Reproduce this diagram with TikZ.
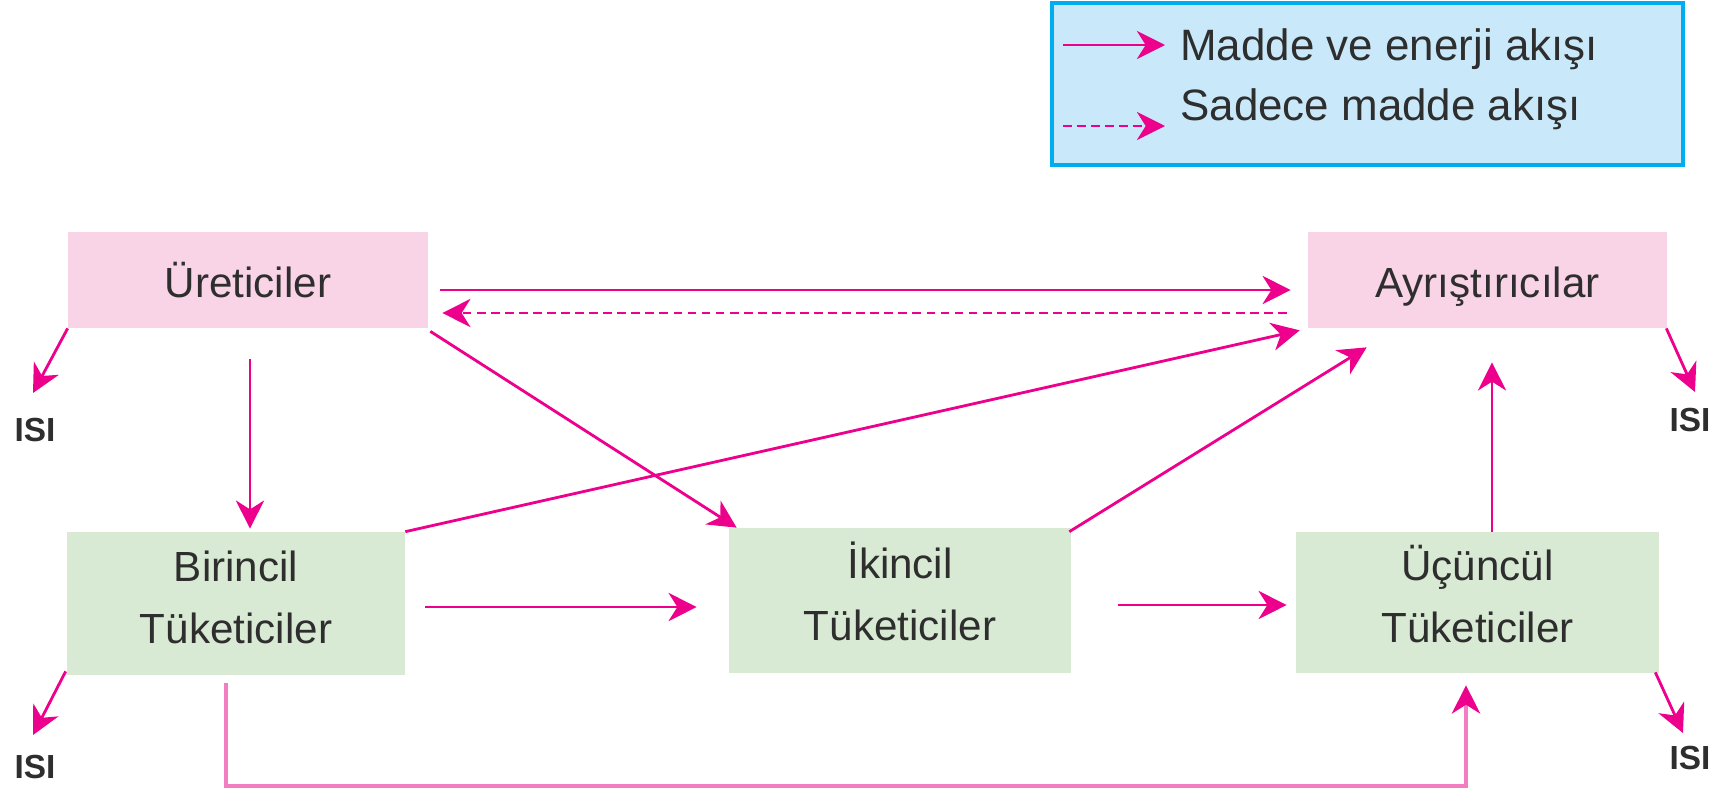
\documentclass[tikz,border=0pt]{standalone}
\usepackage{fontspec}
\setsansfont{Liberation Sans}
\usetikzlibrary{arrows.meta, calc}
\definecolor{flow}{HTML}{EC008C}
\definecolor{flowlight}{HTML}{F27DC0}
\definecolor{prodfill}{HTML}{F9D3E6}
\definecolor{consfill}{HTML}{D8EAD3}
\definecolor{legfill}{HTML}{C9E9FA}
\definecolor{legdraw}{HTML}{00AEEF}
\definecolor{ink}{HTML}{2E2E2E}

\begin{document}
\begin{tikzpicture}[
    x=0.02cm, y=-0.02cm,
    every node/.style={font=\sffamily, text=ink},
    box/.style={inner sep=0pt, align=center,
                font=\sffamily\fontsize{24}{35}\selectfont},
    pinkbox/.style={box, fill=prodfill, minimum height=1.92cm,
                    text height=22pt, text depth=2.6pt},
    greenbox/.style={box, fill=consfill, text height=48pt, text depth=2.6pt},
    energy/.style={draw=flow, line width=1.6pt,
                   -{Stealth[length=16pt, width=16pt, inset=5pt]}},
    matter/.style={energy, dash pattern=on 5pt off 3pt},
    recycle/.style={draw=flowlight, line width=2.6pt,
                    -{Stealth[length=16pt, width=16pt, inset=5pt, color=flow]}},
    isi/.style={font=\sffamily\bfseries\fontsize{19}{22}\selectfont},
    leglab/.style={font=\sffamily\fontsize{25}{30}\selectfont,
                   anchor=base west, inner sep=0pt},
]
\useasboundingbox (0,0) rectangle (1718,792);

% ---------------------------------------------------------------- legend
\draw[fill=legfill, draw=legdraw, line width=2.3pt] (1052,3) rectangle (1683,165);
\node[leglab] (legA) at (1180,60) {Madde ve enerji akışı};
\node[leglab] (legB) at (1180,120) {Sadece madde akışı};
\draw[energy] ($(legA.base west)+(-117,-15)$) -- ($(legA.base west)+(-15,-15)$);
\draw[matter] ($(legB.base west)+(-117,6)$) -- ($(legB.base west)+(-15,6)$);

% ---------------------------------------------------------------- boxes
\node[pinkbox, minimum width=7.2cm] (uret) at (248,280) {Üreticiler};
\node[pinkbox, minimum width=7.18cm] (ayr) at (1487.5,280) {Ayrıştırıcılar};
\node[greenbox, minimum width=6.76cm, minimum height=2.86cm] (bir)
    at (236,603.5) {Birincil\\Tüketiciler};
\node[greenbox, minimum width=6.84cm, minimum height=2.9cm] (ikin)
    at (900,600.5) {İkincil\\Tüketiciler};
\node[greenbox, minimum width=7.26cm, minimum height=2.82cm] (ucun)
    at (1477.5,602.5) {Üçüncül\\Tüketiciler};

% heat leaving every level
\node[isi] (isiA) at (35,430) {ISI};
\node[isi] (isiB) at (35,767) {ISI};
\node[isi] (isiC) at (1690,420) {ISI};
\node[isi] (isiD) at (1690,758) {ISI};

% ---------------------------------------------------------------- flows
\draw[energy] ($(uret.east)+(12,10)$) -- ($(ayr.west)+(-17,10)$);
\draw[matter] ($(ayr.west)+(-21,33)$) -- ($(uret.east)+(14,33)$);
\draw[energy] ($(uret.south)+(2,31)$) -- ($(bir.north)+(14,-3)$);
\draw[energy] ($(uret.south east)+(2,3)$) -- ($(ikin.north west)+(8,0)$);
\draw[energy] (bir.north east) -- ($(ayr.south west)+(-8,2)$);
\draw[energy] ($(ikin.north east)+(-2,4)$) -- ($(ayr.south west)+(59,19)$);
\draw[energy] ($(ucun.north)+(14.5,0)$) -- ($(ayr.south)+(4.5,34)$);
\draw[energy] ($(bir.east)+(20,3.5)$) -- ($(ikin.west)+(-32,6.5)$);
\draw[energy] ($(ikin.east)+(47,4.5)$) -- ($(ucun.west)+(-9,2.5)$);

% long way round, under everything
\coordinate (loopA) at ($(bir.south)+(-10,8)$);
\coordinate (loopB) at ($(ucun.south)+(-11.5,12)$);
\coordinate (floor) at (0,786);
\draw[recycle] (loopA) |- (floor -| loopB) -- (loopB);

% ---------------------------------------------------------------- heat
\draw[energy] (uret.south west) -- ($(isiA)+(-2,-37)$);
\draw[energy] ($(bir.south west)+(-1,-4)$) -- ($(isiB)+(-2,-32)$);
\draw[energy] ($(ayr.south east)+(-1,0)$) -- ($(isiC)+(5,-28)$);
\draw[energy] ($(ucun.south east)+(-4,-1)$) -- ($(isiD)+(-7,-25)$);

\end{tikzpicture}
\end{document}
